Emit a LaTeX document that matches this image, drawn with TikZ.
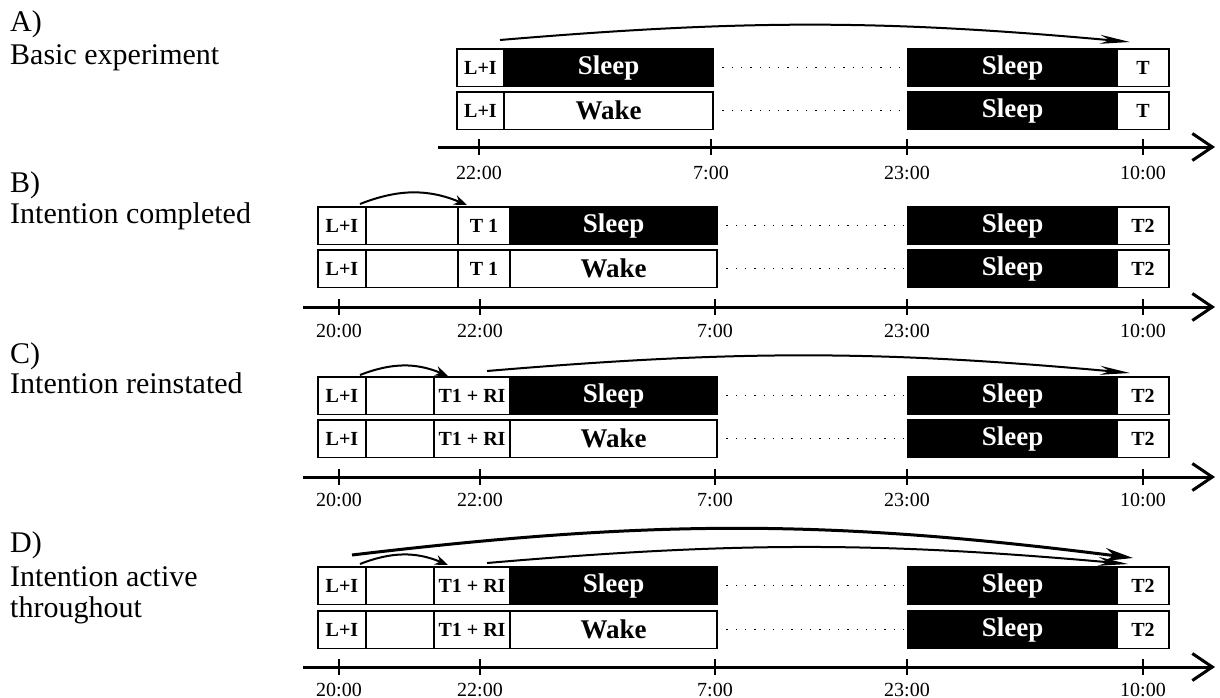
\documentclass[tikz,border=0pt]{standalone}
\usepackage{fontspec}
\setmainfont{Liberation Serif}
\usetikzlibrary{arrows.meta,positioning}

\begin{document}
\begin{tikzpicture}[
    x=1pt,y=-1pt,
    box/.style={draw,line width=1.4pt,inner sep=0pt,outer sep=0pt,minimum height=37.5pt,anchor=north west},
    cell/.style={box,font=\fontsize{20}{20}\selectfont\bfseries},
    wake/.style={box,font=\fontsize{27}{27}\selectfont\bfseries},
    sleep/.style={box,fill=black,text=white,font=\fontsize{27}{27}\selectfont\bfseries},
    dots/.style={line width=1.3pt,dash pattern=on 1.3pt off 8pt},
    axis/.style={line width=3pt,-{Straight Barb[length=20pt,width=27pt,line width=3pt]}},
    tick/.style={line width=1.3pt},
    time/.style={anchor=base,inner sep=0pt,font=\fontsize{20}{20}\selectfont},
    panel/.style={anchor=base west,inner sep=0pt,font=\fontsize{30}{30}\selectfont},
    intent/.style={line width=2pt,-{Stealth[length=30pt,width=9pt]}},
    short/.style={line width=2pt,-{Stealth[length=13pt,width=10pt]}}
]
\useasboundingbox (0,0) rectangle (1220,698);

% panel titles
\node[panel] (labA) at (10,32) {A)};
\node[panel] (txtA) at (10,65) {Basic experiment};
\node[panel] (labB) at (10,192) {B)};
\node[panel] (txtB) at (10,223) {Intention completed};
\node[panel] (labC) at (10,363) {C)};
\node[panel] (txtC) at (10,393) {Intention reinstated};
\node[panel] (labD) at (10,552) {D)};
\node[panel] (txtD) at (10,586) {Intention active};
\node[panel] (txtD2) at (10,617) {throughout};

% A) basic experiment
\node[cell,minimum width=47pt] (a1li) at (457,49) {L+I};
\node[sleep,minimum width=209pt,right=0pt of a1li] (a1sl) {Sleep};
\node[sleep,minimum width=209pt] (a1sr) at (908,49) {Sleep};
\node[cell,minimum width=52pt,right=0pt of a1sr] (a1t) {T};
\draw[dots] (a1sl.east) -- (a1sr.west);

\node[cell,minimum width=47pt] (a2li) at (457,92) {L+I};
\node[wake,minimum width=209pt,right=0pt of a2li] (a2wk) {Wake};
\node[sleep,minimum width=209pt] (a2sr) at (908,92) {Sleep};
\node[cell,minimum width=52pt,right=0pt of a2sr] (a2t) {T};
\draw[dots] (a2wk.east) -- (a2sr.west);

\draw[intent] ([xshift=-4pt,yshift=9pt]a1li.north east) to[bend left=5] ([xshift=13pt,yshift=7pt]a1t.north west);

\coordinate (axA0) at (438,147);
\coordinate (axA1) at (1215,147);
\draw[axis] (axA0) -- (axA1);
\foreach \x/\t [count=\i] in {479/22:00,711/7:00,907/23:00,1143/10:00} {
    \draw[tick] (\x,139) -- (\x,155);
    \node[time] (tA\i) at (\x,179) {\t};
}

% B) intention completed
\node[cell,minimum width=48pt] (b1li) at (318,207) {L+I};
\node[cell,minimum width=92pt,right=0pt of b1li] (b1gap) {};
\node[cell,minimum width=52pt,right=0pt of b1gap] (b1t) {T 1};
\node[sleep,minimum width=207pt,right=0pt of b1t] (b1sl) {Sleep};
\node[sleep,minimum width=209pt] (b1sr) at (908,207) {Sleep};
\node[cell,minimum width=52pt,right=0pt of b1sr] (b1t2) {T2};
\draw[dots] (b1sl.east) -- (b1sr.west);

\node[cell,minimum width=48pt] (b2li) at (318,250) {L+I};
\node[cell,minimum width=92pt,right=0pt of b2li] (b2gap) {};
\node[cell,minimum width=52pt,right=0pt of b2gap] (b2t) {T 1};
\node[wake,minimum width=207pt,right=0pt of b2t] (b2wk) {Wake};
\node[sleep,minimum width=209pt] (b2sr) at (908,250) {Sleep};
\node[cell,minimum width=52pt,right=0pt of b2sr] (b2t2) {T2};
\draw[dots] (b2wk.east) -- (b2sr.west);

\draw[short] ([xshift=-6pt,yshift=3pt]b1li.north east) to[bend left=22] ([xshift=9pt,yshift=2pt]b1t.north west);

\coordinate (axB0) at (303,307);
\coordinate (axB1) at (1215,307);
\draw[axis] (axB0) -- (axB1);
\foreach \x/\t [count=\i] in {339/20:00,480/22:00,715/7:00,907/23:00,1143/10:00} {
    \draw[tick] (\x,299) -- (\x,315);
    \node[time] (tB\i) at (\x,337) {\t};
}

% C) intention reinstated
\node[cell,minimum width=48pt] (c1li) at (318,377) {L+I};
\node[cell,minimum width=68pt,right=0pt of c1li] (c1gap) {};
\node[cell,minimum width=76pt,right=0pt of c1gap] (c1t) {T1 + RI};
\node[sleep,minimum width=207pt,right=0pt of c1t] (c1sl) {Sleep};
\node[sleep,minimum width=209pt] (c1sr) at (908,377) {Sleep};
\node[cell,minimum width=52pt,right=0pt of c1sr] (c1t2) {T2};
\draw[dots] (c1sl.east) -- (c1sr.west);

\node[cell,minimum width=48pt] (c2li) at (318,420) {L+I};
\node[cell,minimum width=68pt,right=0pt of c2li] (c2gap) {};
\node[cell,minimum width=76pt,right=0pt of c2gap] (c2t) {T1 + RI};
\node[wake,minimum width=207pt,right=0pt of c2t] (c2wk) {Wake};
\node[sleep,minimum width=209pt] (c2sr) at (908,420) {Sleep};
\node[cell,minimum width=52pt,right=0pt of c2sr] (c2t2) {T2};
\draw[dots] (c2wk.east) -- (c2sr.west);

\draw[short] ([xshift=-6pt,yshift=2pt]c1li.north east) to[bend left=22] ([xshift=14pt,yshift=1pt]c1t.north west);
\draw[intent] ([xshift=15pt,yshift=6pt]c1t.north) to[bend left=5] ([xshift=13pt,yshift=4pt]c1t2.north west);

\coordinate (axC0) at (303,477);
\coordinate (axC1) at (1215,477);
\draw[axis] (axC0) -- (axC1);
\foreach \x/\t [count=\i] in {339/20:00,480/22:00,715/7:00,907/23:00,1143/10:00} {
    \draw[tick] (\x,469) -- (\x,485);
    \node[time] (tC\i) at (\x,506) {\t};
}

% D) intention active throughout
\node[cell,minimum width=48pt] (d1li) at (318,567) {L+I};
\node[cell,minimum width=68pt,right=0pt of d1li] (d1gap) {};
\node[cell,minimum width=76pt,right=0pt of d1gap] (d1t) {T1 + RI};
\node[sleep,minimum width=207pt,right=0pt of d1t] (d1sl) {Sleep};
\node[sleep,minimum width=209pt] (d1sr) at (908,567) {Sleep};
\node[cell,minimum width=52pt,right=0pt of d1sr] (d1t2) {T2};
\draw[dots] (d1sl.east) -- (d1sr.west);

\node[cell,minimum width=48pt] (d2li) at (318,611) {L+I};
\node[cell,minimum width=68pt,right=0pt of d2li] (d2gap) {};
\node[cell,minimum width=76pt,right=0pt of d2gap] (d2t) {T1 + RI};
\node[wake,minimum width=207pt,right=0pt of d2t] (d2wk) {Wake};
\node[sleep,minimum width=209pt] (d2sr) at (908,611) {Sleep};
\node[cell,minimum width=52pt,right=0pt of d2sr] (d2t2) {T2};
\draw[dots] (d2wk.east) -- (d2sr.west);

\draw[intent,line width=3pt,-{Stealth[length=28pt,width=13pt]}] ([xshift=10pt,yshift=12pt]d1li.north) to[bend left=7] ([xshift=16pt,yshift=9pt]d1t2.north west);
\draw[intent] ([xshift=15pt,yshift=4pt]d1t.north) to[bend left=5] ([xshift=11pt,yshift=3pt]d1t2.north west);
\draw[short] ([xshift=-6pt,yshift=3pt]d1li.north east) to[bend left=22] ([xshift=14pt,yshift=2pt]d1t.north west);

\coordinate (axD0) at (303,667);
\coordinate (axD1) at (1215,667);
\draw[axis] (axD0) -- (axD1);
\foreach \x/\t [count=\i] in {339/20:00,480/22:00,715/7:00,907/23:00,1143/10:00} {
    \draw[tick] (\x,659) -- (\x,675);
    \node[time] (tD\i) at (\x,696) {\t};
}
\end{tikzpicture}
\end{document}
